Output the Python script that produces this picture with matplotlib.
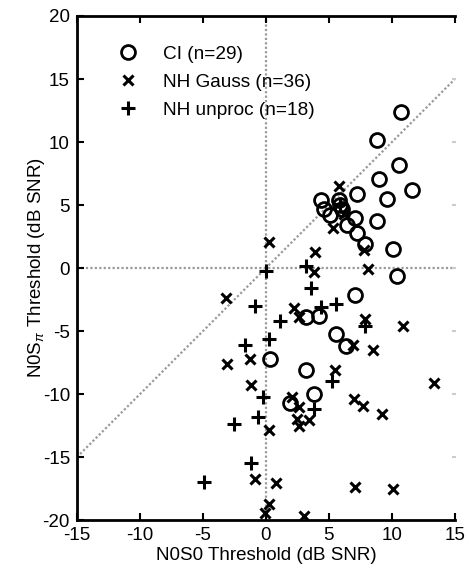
import matplotlib
matplotlib.use("Agg")
import matplotlib.pyplot as plt

plt.rcParams['font.family'] = ['Liberation Sans', 'DejaVu Sans']
plt.rcParams['mathtext.fontset'] = 'custom'
plt.rcParams['mathtext.rm'] = 'Liberation Sans'
plt.rcParams['mathtext.it'] = 'Liberation Sans:italic'
plt.rcParams['axes.unicode_minus'] = False

# CI (n=29)
ci_x = [10.7, 8.8, 10.6, 9.0, 11.6, 7.2, 9.6, 4.4, 5.8, 5.9, 4.6, 5.1, 7.05, 8.8, 6.45,
        7.2, 7.9, 10.05, 10.4, 7.05, 3.15, 4.25, 5.55, 6.35, 0.3, 3.15, 3.8, 1.9, 6.0]
ci_y = [12.4, 10.2, 8.2, 7.1, 6.2, 5.9, 5.5, 5.4, 5.4, 5.0, 4.7, 4.2, 3.95, 3.7, 3.4,
        2.75, 1.95, 1.5, -0.6, -2.15, -3.9, -3.8, -5.2, -6.15, -7.25, -8.1, -9.95, -10.7, 4.7]

# NH Gauss (n=36)
gauss_x = [5.8, 5.3, 6.2, 3.9, 3.8, 7.75, 8.1, 7.9, 10.9, 0.25, -3.15, 2.25, 2.65, 6.95,
           8.5, -1.3, -3.05, 5.5, 13.3, -1.2, 2.05, 2.65, 2.45, 2.65, 3.45, 0.25, 7.0,
           7.7, 9.2, -0.9, 0.8, 0.25, -0.05, 3.05, 7.05, 10.1]
gauss_y = [6.5, 3.15, 4.3, 1.3, -0.3, 1.45, -0.05, -4.05, -4.6, 2.05, -2.35, -3.15, -3.85,
           -6.1, -6.5, -7.2, -7.6, -8.1, -9.1, -9.25, -10.2, -11.0, -12.0, -12.55, -12.05,
           -12.85, -10.35, -10.95, -11.55, -16.7, -17.05, -18.7, -19.45, -19.7, -17.4, -17.55]

# NH unproc (n=18)
unproc_x = [0.0, 3.15, 3.6, 4.35, 5.6, -0.85, 1.15, 0.25, -1.7, 5.25, 7.85, 3.85, -0.25,
            -0.65, -2.5, -1.2, -4.9, 5.9]
unproc_y = [-0.25, 0.15, -1.6, -3.1, -2.85, -3.0, -4.2, -5.65, -6.1, -8.95, -4.6, -11.2,
            -10.25, -11.8, -12.35, -15.45, -17.0, 5.1]

xticks = [-15, -10, -5, 0, 5, 10, 15]
yticks = [-20, -15, -10, -5, 0, 5, 10, 15, 20]

fig = plt.figure(figsize=(4.69, 5.71), dpi=100)
ax = fig.add_axes([0.164, 0.089, 0.806, 0.883])
ax.set_xlim(-15, 15)
ax.set_ylim(-20, 20)

grey = '#9a9a9a'
ax.plot([-15, 15], [-15, 15], linestyle=(0, (1, 1)), color=grey, lw=1.6, zorder=1)
ax.axhline(0, linestyle=(0, (1, 1)), color=grey, lw=1.6, zorder=1)
ax.axvline(0, linestyle=(0, (1, 1)), color=grey, lw=1.6, zorder=1)

ax.plot(ci_x, ci_y, 'o', mfc='none', mec='black', mew=2.0, ms=10, ls='none',
        label='CI (n=29)', zorder=3)
ax.plot(gauss_x, gauss_y, 'x', color='black', mew=2.2, ms=7, ls='none',
        label='NH Gauss (n=36)', zorder=3)
ax.plot(unproc_x, unproc_y, '+', color='black', mew=2.2, ms=9.5, ls='none',
        label='NH unproc (n=18)', zorder=3)

ax.set_xticks(xticks)
ax.set_yticks(yticks)
ax.tick_params(direction='in', length=5, width=1.5, labelsize=13.5, top=True,
               right=False, pad=5)
for s in ['left', 'bottom', 'top']:
    ax.spines[s].set_linewidth(2)
ax.spines['right'].set_visible(False)
for yv in [-15, -10, -5, 0, 5, 10, 15]:
    ax.plot([14.85, 15], [yv, yv], color='#cccccc', lw=1.5, clip_on=False, zorder=1)

ax.set_xlabel('N0S0 Threshold (dB SNR)', fontsize=13.5, labelpad=2)
ax.set_ylabel('N0S$_{\\pi}$ Threshold (dB SNR)', fontsize=13.5)
ax.yaxis.set_label_coords(-0.078, 0.5)

leg = ax.legend(loc='upper left', bbox_to_anchor=(0.065, 0.975), frameon=False,
                fontsize=13.7, handlelength=1.0, handletextpad=1.35, labelspacing=0.55,
                numpoints=1)

fig.savefig('out.png', dpi=100)
